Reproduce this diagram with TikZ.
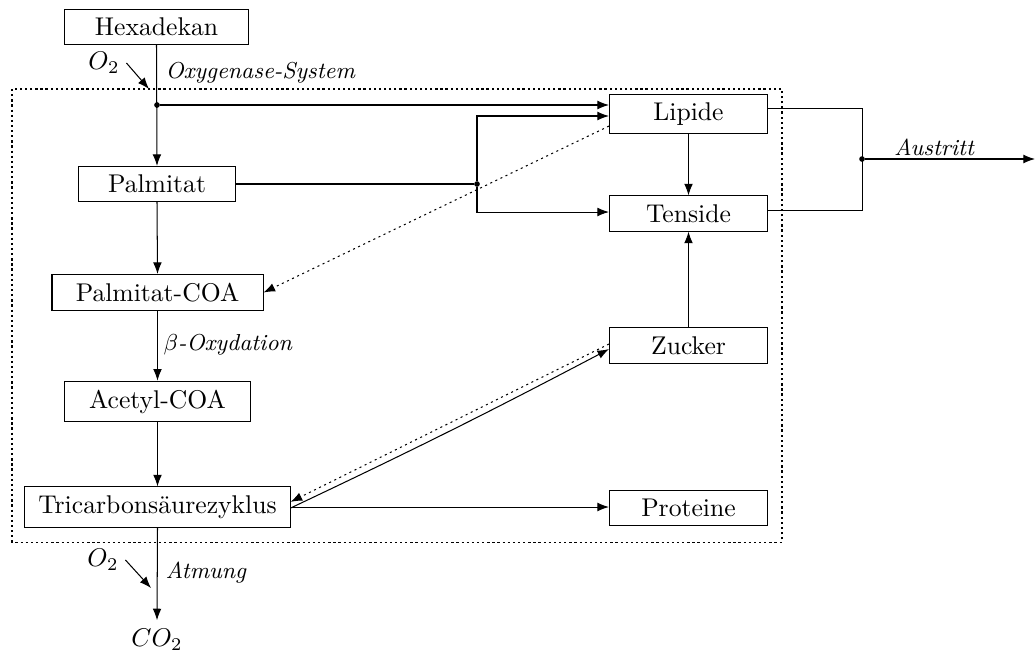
\documentclass[tikz,border=0pt]{standalone}
\usetikzlibrary{arrows.meta}
\begin{document}
\begin{tikzpicture}[x=0.39pt,y=-0.39pt,
  box/.style={draw,rectangle,inner sep=3.33pt},
  arr/.style={-{Latex[length=4.5pt,width=3.4pt]}},
  dots/.style={dash pattern=on 0.8pt off 1.4pt},
  lab/.style={anchor=west,inner sep=0pt,font=\small\itshape},
  jdot/.style={circle,fill,inner sep=0pt,minimum size=2.2pt}]
\useasboundingbox (0,0) rectangle (1035,653);
% boundary
\draw[dash pattern=on 0.9pt off 1.1pt] (12,89) rectangle (782,542);
% nodes
\node[box,minimum width=71.4pt] (hex) at (156.5,27) {Hexadekan};
\node[box,minimum width=61.6pt] (pal) at (157,184) {Palmitat};
\node[box,minimum width=82.3pt] (pcoa) at (157.5,292.5) {Palmitat-COA};
\node[box,minimum width=72.2pt] (acoa) at (157.5,401.5) {Acetyl-COA};
\node[box,minimum width=103.4pt] (tri) at (157.5,507) {Tricarbons\"aurezyklus};
\node[box,minimum width=61.6pt] (lip) at (688.5,114) {Lipide};
\node[box,minimum width=61.6pt] (ten) at (688.5,213.5) {Tenside};
\node[box,minimum width=61.6pt] (zuc) at (688.5,345.5) {Zucker};
\node[box,minimum width=61.6pt] (pro) at (688.5,508) {Proteine};
\node (co2) at (157,640) {$CO_2$};
\node[inner sep=1pt] (o2a) at (104,63) {$O_2$};
\node[inner sep=1pt] (o2b) at (103,560) {$O_2$};
% labels
\node[lab] (l1) at (165,73) {Oxygenase-System};
\node[lab] (l2) at (163,345) {$\beta$-Oxydation};
\node[lab] (l3) at (165,573) {Atmung};
\node[lab,anchor=center] (l4) at (934,147) {Austritt};
% junctions
\node[jdot] (d1) at (157,105) {};
\node[jdot] (d2) at (477,184) {};
\node[jdot] (d3) at (862,159) {};
\coordinate (o2aend) at (149,89);
\coordinate (o2bend) at (151,588);
\coordinate (out) at (1035,159);
% main chain
\draw[arr] (hex.south) -- (pal.north);
\draw[arr] ([xshift=1.5pt]o2a.east) -- (o2aend);
\draw[arr] (pal.south) -- (pcoa.north);
\draw[arr] (pcoa.south) -- (acoa.north);
\draw[arr] (acoa.south) -- (tri.north);
\draw[arr] (tri.south) -- (co2.north);
\draw[arr] ([xshift=1.5pt]o2b.east) -- (o2bend);
% to lipide / tenside
\draw[arr] (d1.east) -- (d1.east -| lip.west);
\draw (pal.east) -- (d2);
\draw[arr] (d2) |- ([yshift=-0.78pt]lip.west);
\draw[arr] (d2) |- ([yshift=0.58pt]ten.west);
\draw[arr,dots] ([yshift=-4.7pt]lip.west) -- (pcoa.east);
\draw[arr] (lip.south) -- (ten.north);
\draw[arr] (zuc.north) -- (ten.south);
% zucker / tricarb
\draw[arr] ([yshift=-0.4pt]tri.east) to[bend right=1.2] ([yshift=-1.4pt]zuc.west);
\draw[arr,dots] ([yshift=0.6pt]zuc.west) -- ([yshift=2pt]tri.east);
\draw[arr] (tri.east) -- (tri.east -| pro.west);
% austritt
\draw ([yshift=2.3pt]lip.east) -| (d3.center);
\draw ([yshift=1pt]ten.east) -| (d3.center);
\draw[arr] (d3.east) -- (out);
\end{tikzpicture}
\end{document}
